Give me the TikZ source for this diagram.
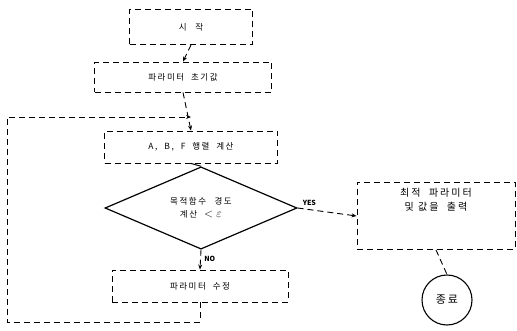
\documentclass[tikz,border=0pt]{standalone}
\usepackage{fontspec}
\setmainfont{Noto Sans CJK KR}
\usetikzlibrary{shapes.geometric,arrows.meta}

\tikzstyle{textonly}=[align=center, font=\fontsize{8.5}{13}\selectfont\addfontfeature{LetterSpace=18}]
\tikzstyle{box}=[textonly, rectangle, draw=black, line width=0.9pt, dash pattern=on 6pt off 4pt, inner sep=0pt]
\tikzstyle{decision}=[textonly, diamond, draw=black, line width=1.2pt, inner sep=0pt]
\tikzstyle{flow}=[-{Stealth[length=5pt,width=4pt]}, line width=0.9pt, dash pattern=on 6pt off 4pt]
\tikzstyle{label}=[font=\fontsize{7}{8}\selectfont\bfseries]

\begin{document}
\begin{tikzpicture}[x=1pt, y=-1pt]
  \useasboundingbox (0,0) rectangle (517,331);

  % Nodes
  \node (start) [box, minimum width=123pt, minimum height=35pt] at (191,27) {시\quad 작};
  \node (init) [box, minimum width=177pt, minimum height=30pt] at (183,77) {파라미터\ \ 초기값};
  \node (calc) [box, minimum width=173pt, minimum height=32pt] at (191,147) {A,\ \ B,\ \ F\ \ 행렬\ \ 계산};
  \node (cond) [decision, minimum width=192pt, minimum height=72pt] at (201,208) {목적함수\quad 경도\\계산\ \ {\large $<\varepsilon$}};
  \node (out) [box, minimum width=158pt, minimum height=67pt, text depth=34pt, font=\fontsize{10}{14}\selectfont\addfontfeature{LetterSpace=20}] at (436,216) {최적\ \ 파라미터\\및\ 값을\ \ 출력};
  \node (end) [circle, draw=black, line width=1.1pt, minimum size=50pt, inner sep=0pt, textonly, font=\fontsize{11}{13}\selectfont] at (447,300) {종\,료};
  \node (update) [box, minimum width=176pt, minimum height=32pt] at (200,286) {파라미터\ \ 수정};
  \coordinate (join) at (calc.north |- 0,117);
  \coordinate (loopend) at (update.south |- 0,322);

  % Arrows
  \draw [flow] (start.south) -- (init.north);
  \draw [flow] (init.south) -- (calc.north);
  \draw [line width=1pt] (calc.south) -- (cond.north);
  \draw [flow] (cond.east) -- node[label, above, pos=0.2]{YES} (out.west);
  \draw [flow] (cond.south) -- node[label, right, pos=0.45]{NO} (update.north);
  \draw [line width=0.9pt, dash pattern=on 6pt off 4pt] (out.south) -- (end.north);

  % Loop back
  \draw [flow] (update.south) -- (loopend) -| (7,117) -- (join);
\end{tikzpicture}
\end{document}
